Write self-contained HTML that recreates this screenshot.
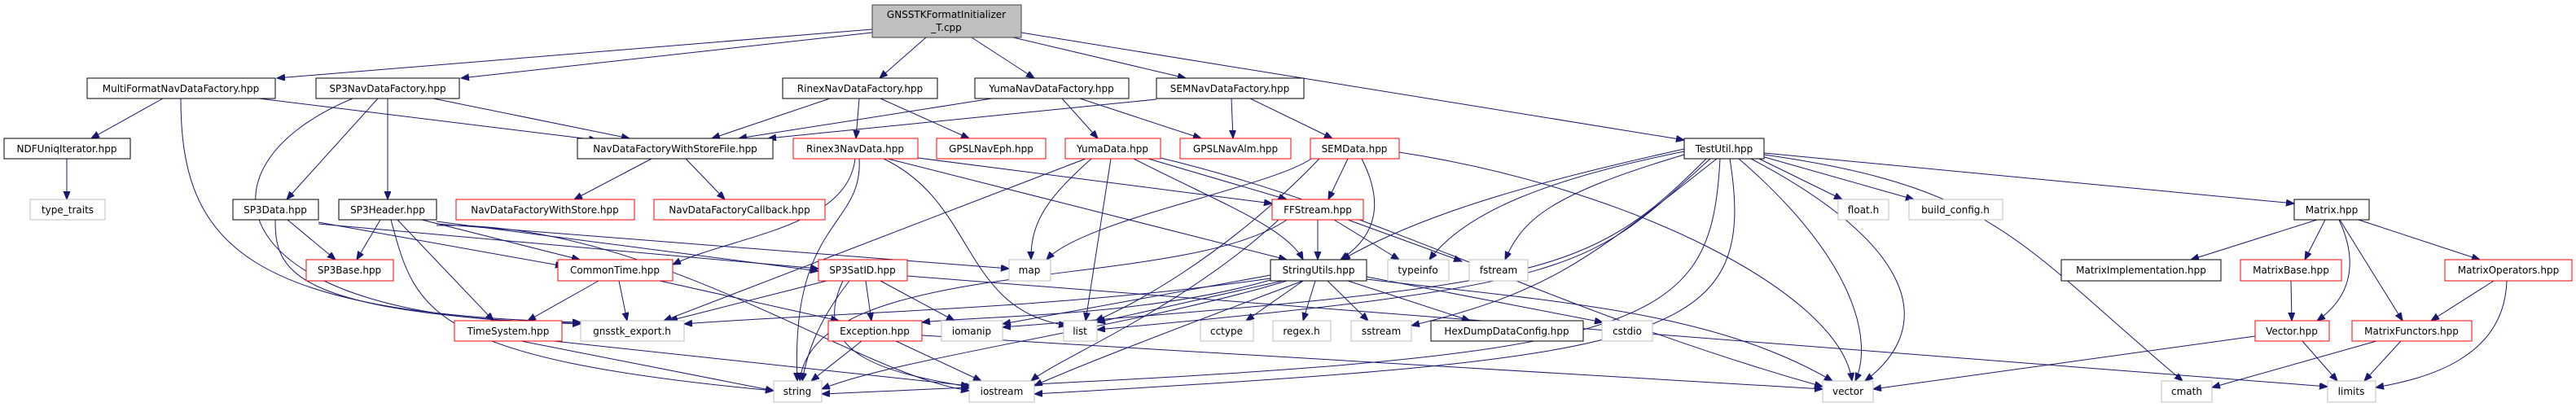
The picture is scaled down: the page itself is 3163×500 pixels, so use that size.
<!DOCTYPE html>
<html><head><meta charset="utf-8"><style>
html,body{margin:0;padding:0;background:#fff;}
svg{display:block;}
text{font-family:"DejaVu Sans","Liberation Sans",sans-serif;font-size:12px;fill:#000;}
.k{fill:#fff;stroke:#000;stroke-width:1}
.r{fill:#fff;stroke:#ff0000;stroke-width:1}
.g{fill:#fff;stroke:#bfbfbf;stroke-width:1}
.e{fill:none;stroke:#191970;stroke-width:1;marker-end:url(#a)}
</style></head><body>
<svg width="3163" height="500" viewBox="0 0 3163 500" xmlns="http://www.w3.org/2000/svg">
<defs><marker id="a" markerUnits="userSpaceOnUse" markerWidth="11" markerHeight="9" refX="10" refY="4" orient="auto"><path d="M0,0 L10,4 L0,8 z" fill="#191970" stroke="#191970"/></marker></defs>
<g>
<path class="e" d="M1071,36 L340,96"/>
<path class="e" d="M1071,40 L566,96"/>
<path class="e" d="M1137,46 L1080,96"/>
<path class="e" d="M1193,46 L1270,96"/>
<path class="e" d="M1244,46 L1456,96"/>
<path class="e" d="M1254,40 L2068,172"/>
<path class="e" d="M200,121 L112,170"/>
<path class="e" d="M318,121 L733,172"/>
<path class="e" d="M222,121 C222,300 300,385 713,396"/>
<path class="e" d="M532,121 L773,170"/>
<path class="e" d="M464,121 L352,245"/>
<path class="e" d="M476,121 L476,245"/>
<path class="e" d="M433,121 C220,210 280,400 713,396"/>
<path class="e" d="M1019,121 L874,170"/>
<path class="e" d="M1055,121 L1051,170"/>
<path class="e" d="M1081,121 L1190,170"/>
<path class="e" d="M1218,121 L907,170"/>
<path class="e" d="M1304,121 L1348,170"/>
<path class="e" d="M1326,121 L1475,170"/>
<path class="e" d="M1420,122 L943,170"/>
<path class="e" d="M1512,121 L1514,170"/>
<path class="e" d="M1535,121 L1636,170"/>
<path class="e" d="M82,195 L82,245"/>
<path class="e" d="M800,195 L705,245"/>
<path class="e" d="M842,195 L890,245"/>
<path class="e" d="M353,270 L412,319"/>
<path class="e" d="M391,273 L692,327"/>
<path class="e" d="M391,275 L1005,330"/>
<path class="e" d="M338,270 C338,330 350,385 713,398"/>
<path class="e" d="M467,270 L438,319"/>
<path class="e" d="M518,270 L712,319"/>
<path class="e" d="M488,270 L606,394"/>
<path class="e" d="M480,270 C510,380 520,440 950,480"/>
<path class="e" d="M536,272 L1005,333"/>
<path class="e" d="M536,275 L1239,330"/>
<path class="e" d="M536,277 C800,270 1050,460 1190,480"/>
<path class="e" d="M1050,195 C1040,280 900,290 826,325"/>
<path class="e" d="M1055,195 C1060,280 970,270 979,468"/>
<path class="e" d="M1127,194 L1562,250"/>
<path class="e" d="M1090,195 L1580,319"/>
<path class="e" d="M1085,195 C1200,250 1180,380 1310,400"/>
<path class="e" d="M1340,195 C1290,240 1265,270 1266,319"/>
<path class="e" d="M1364,195 L1333,394"/>
<path class="e" d="M1410,195 L1580,245"/>
<path class="e" d="M1392,195 C1500,250 1580,280 1600,319"/>
<path class="e" d="M1333,195 L815,394"/>
<path class="e" d="M1425,194 C1700,260 1900,380 2238,475"/>
<path class="e" d="M1610,195 C1560,230 1330,270 1285,319"/>
<path class="e" d="M1655,195 L1631,245"/>
<path class="e" d="M1672,195 C1700,250 1690,290 1646,319"/>
<path class="e" d="M1620,195 C1500,320 1380,380 1345,394"/>
<path class="e" d="M1718,187 C2000,230 2260,360 2274,468"/>
<path class="e" d="M1618,270 L1618,319"/>
<path class="e" d="M1638,270 L1718,319"/>
<path class="e" d="M1655,270 L1795,321"/>
<path class="e" d="M1580,270 C1450,360 1000,310 982,468"/>
<path class="e" d="M1570,270 C1450,380 1300,440 1266,468"/>
<path class="e" d="M735,345 L648,394"/>
<path class="e" d="M760,345 L770,394"/>
<path class="e" d="M810,345 L1030,394"/>
<path class="e" d="M1015,345 L822,394"/>
<path class="e" d="M1063,345 L1070,394"/>
<path class="e" d="M1081,345 L1172,394"/>
<path class="e" d="M1043,345 C1000,400 990,440 985,468"/>
<path class="e" d="M1035,345 C990,440 1100,460 1195,476"/>
<path class="e" d="M1114,339 L2858,475"/>
<path class="e" d="M1560,338 L1231,398"/>
<path class="e" d="M1575,345 L1347,396"/>
<path class="e" d="M1600,345 L1530,394"/>
<path class="e" d="M1615,345 L1600,394"/>
<path class="e" d="M1630,345 L1680,394"/>
<path class="e" d="M1655,345 L1805,394"/>
<path class="e" d="M1678,340 L1968,396"/>
<path class="e" d="M1678,343 C1900,370 2100,380 2250,468"/>
<path class="e" d="M1580,345 C1400,400 1100,440 1009,478"/>
<path class="e" d="M1600,345 C1400,420 1300,460 1270,474"/>
<path class="e" d="M1560,342 C1300,380 1000,385 840,398"/>
<path class="e" d="M1560,344 C1400,390 1200,388 1132,396"/>
<path class="e" d="M1058,419 L996,468"/>
<path class="e" d="M1100,419 L1205,468"/>
<path class="e" d="M1132,412 L2238,478"/>
<path class="e" d="M640,419 L950,480"/>
<path class="e" d="M680,419 L1190,474"/>
<path class="e" d="M2068,183 C1900,220 1750,260 1648,319"/>
<path class="e" d="M2068,186 C1900,220 1800,260 1755,319"/>
<path class="e" d="M2068,190 C1900,240 1870,270 1848,319"/>
<path class="e" d="M2160,195 L2262,245"/>
<path class="e" d="M2163,192 L2350,245"/>
<path class="e" d="M2166,188 L2817,250"/>
<path class="e" d="M2166,190 C2450,230 2480,300 2680,468"/>
<path class="e" d="M2150,195 C2350,300 2380,400 2290,468"/>
<path class="e" d="M2135,195 C2280,320 2300,420 2278,468"/>
<path class="e" d="M2100,195 C1950,330 1950,350 1347,405"/>
<path class="e" d="M2108,195 C1950,320 1900,360 1733,400"/>
<path class="e" d="M2095,195 C1950,340 1900,350 1231,402"/>
<path class="e" d="M2112,195 C2100,420 2020,440 1009,484"/>
<path class="e" d="M2124,195 C2160,420 2050,440 1270,484"/>
<path class="e" d="M2845,270 L2690,319"/>
<path class="e" d="M2855,270 L2830,319"/>
<path class="e" d="M2872,270 C2900,330 2880,370 2845,394"/>
<path class="e" d="M2873,270 L2950,394"/>
<path class="e" d="M2896,270 L3045,319"/>
<path class="e" d="M2813,345 L2814,394"/>
<path class="e" d="M3062,345 L2985,394"/>
<path class="e" d="M3078,345 C3075,440 2980,465 2917,476"/>
<path class="e" d="M2918,419 L2716,476"/>
<path class="e" d="M2948,419 L2903,468"/>
<path class="e" d="M2769,413 L2300,478"/>
<path class="e" d="M2827,419 L2870,468"/>
</g>
<g text-anchor="middle">
<rect x="1071" y="6" width="183" height="40" fill="#bfbfbf" stroke="#404040"/>
<text x="1162" y="22">GNSSTKFormatInitializer</text><text x="1162" y="38">_T.cpp</text>
<rect class="k" x="107" y="96" width="231" height="25"/><text x="222" y="113">MultiFormatNavDataFactory.hpp</text>
<rect class="k" x="388" y="96" width="176" height="25"/><text x="476" y="113">SP3NavDataFactory.hpp</text>
<rect class="k" x="961" y="96" width="190" height="25"/><text x="1056" y="113">RinexNavDataFactory.hpp</text>
<rect class="k" x="1197" y="96" width="189" height="25"/><text x="1291" y="113">YumaNavDataFactory.hpp</text>
<rect class="k" x="1420" y="96" width="181" height="25"/><text x="1510" y="113">SEMNavDataFactory.hpp</text>
<rect class="k" x="5" y="170" width="155" height="25"/><text x="82" y="187">NDFUniqIterator.hpp</text>
<rect class="k" x="709" y="170" width="240" height="25"/><text x="829" y="187">NavDataFactoryWithStoreFile.hpp</text>
<rect class="r" x="974" y="170" width="153" height="25"/><text x="1050" y="187">Rinex3NavData.hpp</text>
<rect class="r" x="1150" y="170" width="134" height="25"/><text x="1217" y="187">GPSLNavEph.hpp</text>
<rect class="r" x="1308" y="170" width="117" height="25"/><text x="1366" y="187">YumaData.hpp</text>
<rect class="r" x="1449" y="170" width="136" height="25"/><text x="1517" y="187">GPSLNavAlm.hpp</text>
<rect class="r" x="1609" y="170" width="109" height="25"/><text x="1663" y="187">SEMData.hpp</text>
<rect class="k" x="2068" y="170" width="98" height="25"/><text x="2117" y="187">TestUtil.hpp</text>
<rect class="g" x="37" y="245" width="92" height="25"/><text x="83" y="262">type_traits</text>
<rect class="k" x="286" y="245" width="105" height="25"/><text x="338" y="262">SP3Data.hpp</text>
<rect class="k" x="416" y="245" width="120" height="25"/><text x="476" y="262">SP3Header.hpp</text>
<rect class="r" x="560" y="245" width="219" height="25"/><text x="669" y="262">NavDataFactoryWithStore.hpp</text>
<rect class="r" x="803" y="245" width="210" height="25"/><text x="908" y="262">NavDataFactoryCallback.hpp</text>
<rect class="r" x="1562" y="245" width="112" height="25"/><text x="1618" y="262">FFStream.hpp</text>
<rect class="g" x="2257" y="245" width="62" height="25"/><text x="2288" y="262">float.h</text>
<rect class="g" x="2344" y="245" width="115" height="25"/><text x="2401" y="262">build_config.h</text>
<rect class="k" x="2817" y="245" width="92" height="25"/><text x="2863" y="262">Matrix.hpp</text>
<rect class="r" x="376" y="319" width="107" height="26"/><text x="429" y="336">SP3Base.hpp</text>
<rect class="r" x="685" y="319" width="141" height="26"/><text x="755" y="336">CommonTime.hpp</text>
<rect class="r" x="1005" y="319" width="109" height="26"/><text x="1059" y="336">SP3SatID.hpp</text>
<rect class="g" x="1239" y="319" width="51" height="26"/><text x="1264" y="336">map</text>
<rect class="k" x="1560" y="319" width="118" height="26"/><text x="1619" y="336">StringUtils.hpp</text>
<rect class="g" x="1704" y="319" width="75" height="26"/><text x="1741" y="336">typeinfo</text>
<rect class="g" x="1804" y="319" width="72" height="26"/><text x="1840" y="336">fstream</text>
<rect class="k" x="2531" y="319" width="196" height="26"/><text x="2629" y="336">MatrixImplementation.hpp</text>
<rect class="r" x="2751" y="319" width="124" height="26"/><text x="2813" y="336">MatrixBase.hpp</text>
<rect class="r" x="3002" y="319" width="156" height="26"/><text x="3080" y="336">MatrixOperators.hpp</text>
<rect class="r" x="558" y="394" width="132" height="25"/><text x="624" y="411">TimeSystem.hpp</text>
<rect class="g" x="713" y="394" width="127" height="25"/><text x="776" y="411">gnsstk_export.h</text>
<rect class="r" x="1017" y="394" width="115" height="25"/><text x="1074" y="411">Exception.hpp</text>
<rect class="g" x="1156" y="394" width="75" height="25"/><text x="1193" y="411">iomanip</text>
<rect class="g" x="1306" y="394" width="41" height="25"/><text x="1326" y="411">list</text>
<rect class="g" x="1474" y="394" width="65" height="25"/><text x="1506" y="411">cctype</text>
<rect class="g" x="1563" y="394" width="71" height="25"/><text x="1598" y="411">regex.h</text>
<rect class="g" x="1659" y="394" width="74" height="25"/><text x="1696" y="411">sstream</text>
<rect class="k" x="1757" y="394" width="187" height="25"/><text x="1850" y="411">HexDumpDataConfig.hpp</text>
<rect class="g" x="1967" y="394" width="62" height="25"/><text x="1998" y="411">cstdio</text>
<rect class="r" x="2769" y="394" width="91" height="25"/><text x="2814" y="411">Vector.hpp</text>
<rect class="r" x="2888" y="394" width="147" height="25"/><text x="2961" y="411">MatrixFunctors.hpp</text>
<rect class="g" x="950" y="468" width="59" height="26"/><text x="979" y="485">string</text>
<rect class="g" x="1190" y="468" width="80" height="26"/><text x="1230" y="485">iostream</text>
<rect class="g" x="2238" y="468" width="62" height="26"/><text x="2269" y="485">vector</text>
<rect class="g" x="2654" y="468" width="62" height="26"/><text x="2685" y="485">cmath</text>
<rect class="g" x="2858" y="468" width="59" height="26"/><text x="2887" y="485">limits</text>
</g>
</svg>
</body></html>
